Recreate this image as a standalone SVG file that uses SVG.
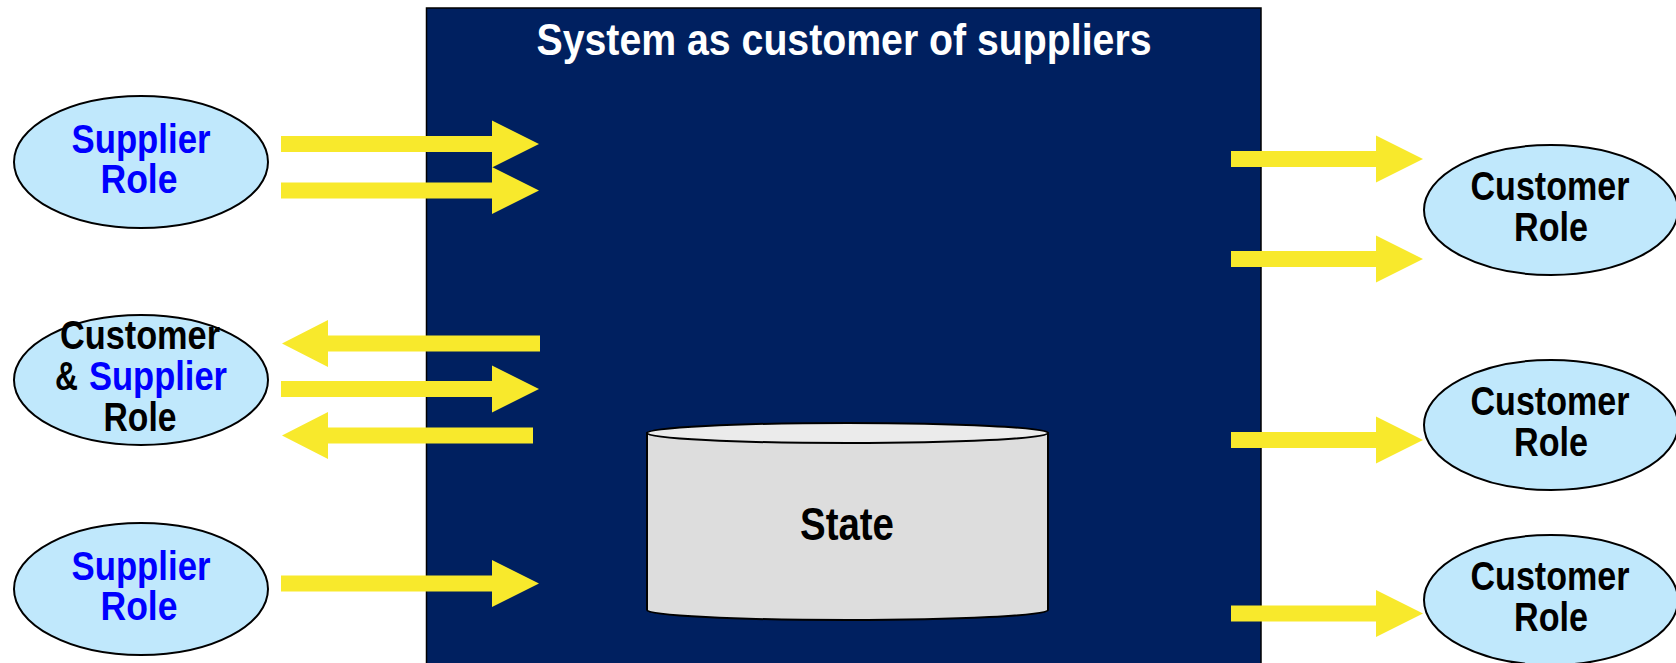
<svg xmlns="http://www.w3.org/2000/svg" width="1676" height="663" viewBox="0 0 1676 663">
<style>
.lbl{font-family:"Liberation Sans",Arial,sans-serif;font-weight:bold;font-size:40px;text-anchor:middle}
.blue{fill:#0000FF}
.blk{fill:#000000}
.role{fill:#C0E8FC;stroke:#000;stroke-width:2}
.arrow{fill:#F8E92C}
</style>
<rect width="1676" height="663" fill="#FFFFFF"/>
<g id="system">
<rect x="426.5" y="8" width="834.5" height="670" fill="#002060" stroke="#000" stroke-width="1.5"/>
<text x="844" y="55" font-family="Liberation Sans, Arial, sans-serif" font-weight="bold" font-size="45" fill="#FFFFFF" text-anchor="middle" textLength="615" lengthAdjust="spacingAndGlyphs">System as customer of suppliers</text>
</g>
<g id="state">
<path d="M647,433 L647,610 A200.5,10 0 0 0 1048,610 L1048,433 Z" fill="#DDDDDD" stroke="#000" stroke-width="2"/>
<ellipse cx="847.5" cy="433" rx="200.5" ry="10" fill="#EBEBEB" stroke="#000" stroke-width="2"/>
<text x="847" y="540" font-family="Liberation Sans, Arial, sans-serif" font-weight="bold" font-size="46" fill="#000" text-anchor="middle" textLength="94" lengthAdjust="spacingAndGlyphs">State</text>
</g>
<g id="supplier-1">
<ellipse class="role" cx="141" cy="162" rx="127" ry="66"/>
<text class="lbl blue" x="141" y="153" textLength="139" lengthAdjust="spacingAndGlyphs">Supplier</text>
<text class="lbl blue" x="139" y="193" textLength="77" lengthAdjust="spacingAndGlyphs">Role</text>
</g>
<g id="customer-supplier">
<ellipse class="role" cx="141" cy="380" rx="127" ry="65"/>
<text class="lbl blk" x="140" y="349" textLength="160" lengthAdjust="spacingAndGlyphs">Customer</text>
<text class="lbl blk" x="55" y="390" style="text-anchor:start" textLength="23" lengthAdjust="spacingAndGlyphs">&amp;</text>
<text class="lbl blue" x="89" y="390" style="text-anchor:start" textLength="138" lengthAdjust="spacingAndGlyphs">Supplier</text>
<text class="lbl blk" x="140" y="431" textLength="73" lengthAdjust="spacingAndGlyphs">Role</text>
</g>
<g id="supplier-2">
<ellipse class="role" cx="141" cy="589" rx="127" ry="66"/>
<text class="lbl blue" x="141" y="580" textLength="139" lengthAdjust="spacingAndGlyphs">Supplier</text>
<text class="lbl blue" x="139" y="620" textLength="77" lengthAdjust="spacingAndGlyphs">Role</text>
</g>
<g id="customer-1">
<ellipse class="role" cx="1551" cy="210" rx="127" ry="65"/>
<text class="lbl blk" x="1550" y="200" textLength="159" lengthAdjust="spacingAndGlyphs">Customer</text>
<text class="lbl blk" x="1551" y="241" textLength="74" lengthAdjust="spacingAndGlyphs">Role</text>
</g>
<g id="customer-2">
<ellipse class="role" cx="1551" cy="425" rx="127" ry="65"/>
<text class="lbl blk" x="1550" y="415" textLength="159" lengthAdjust="spacingAndGlyphs">Customer</text>
<text class="lbl blk" x="1551" y="456" textLength="74" lengthAdjust="spacingAndGlyphs">Role</text>
</g>
<g id="customer-3">
<ellipse class="role" cx="1551" cy="600" rx="127" ry="65"/>
<text class="lbl blk" x="1550" y="590" textLength="159" lengthAdjust="spacingAndGlyphs">Customer</text>
<text class="lbl blk" x="1551" y="631" textLength="74" lengthAdjust="spacingAndGlyphs">Role</text>
</g>
<g id="connectors">
<polygon class="arrow" points="281,136 492,136 492,120.5 539,144 492,167.5 492,152 281,152"/>
<polygon class="arrow" points="281,182.5 492,182.5 492,167 539,190.5 492,214 492,198.5 281,198.5"/>
<polygon class="arrow" points="540,335.5 328,335.5 328,320 282,343.5 328,367 328,351.5 540,351.5"/>
<polygon class="arrow" points="281,381 492,381 492,365.5 539,389 492,412.5 492,397 281,397"/>
<polygon class="arrow" points="533,427.5 328,427.5 328,412 282,435.5 328,459 328,443.5 533,443.5"/>
<polygon class="arrow" points="281,575.5 492,575.5 492,560 539,583.5 492,607 492,591.5 281,591.5"/>
<polygon class="arrow" points="1231,151 1376,151 1376,135.5 1423,159 1376,182.5 1376,167 1231,167"/>
<polygon class="arrow" points="1231,251 1376,251 1376,235.5 1423,259 1376,282.5 1376,267 1231,267"/>
<polygon class="arrow" points="1231,432 1376,432 1376,416.5 1423,440 1376,463.5 1376,448 1231,448"/>
<polygon class="arrow" points="1231,605.5 1376,605.5 1376,590 1423,613.5 1376,637 1376,621.5 1231,621.5"/>
</g>
</svg>
